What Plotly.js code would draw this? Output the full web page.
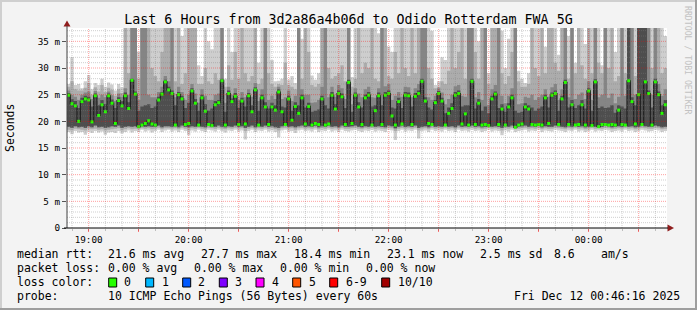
<!DOCTYPE html>
<html><head><meta charset="utf-8">
<script src="https://cdn.plot.ly/plotly-3.0.1.min.js"></script>
<style>
html,body{margin:0;padding:0;background:#f3f3f3;overflow:hidden}
#wrap{position:relative;width:697px;height:310px}
#chart{position:absolute;left:0;top:0;width:697px;height:310px}
.fr{position:absolute}
</style></head><body>
<div id="wrap"><div id="chart"></div>
<div class="fr" style="left:0;top:0;width:697px;height:2px;background:#cfcfcf"></div>
<div class="fr" style="left:0;top:0;width:2px;height:310px;background:#cfcfcf"></div>
<div class="fr" style="left:0;top:308px;width:697px;height:2px;background:#9e9e9e"></div>
<div class="fr" style="left:695px;top:0;width:2px;height:310px;background:#9e9e9e"></div>
</div>
<script>
// ---------- data (ms), one value per 2-minute step starting 18:47 ----------
const startTime = '2025-12-11 18:47:00';
const stepMinutes = 2;

const median = [24.9,23.3,22.9,20.0,23.7,24.2,24.0,19.9,24.8,21.1,
 23.1,21.8,24.8,23.4,19.6,23.9,22.9,24.8,22.4,27.7,
 25.1,19.0,19.3,19.6,20.1,19.5,19.3,24.0,25.1,27.4,
 25.9,25.2,19.3,25.0,24.2,19.4,19.6,25.7,23.4,19.3,
 24.4,21.9,19.4,19.2,23.1,23.5,27.6,19.3,25.2,23.7,
 24.7,19.4,23.8,19.5,24.8,21.8,25.9,19.3,24.4,22.7,
 19.4,22.7,22.1,25.5,21.8,19.4,24.2,20.2,22.8,21.5,
 24.4,19.5,22.8,19.3,19.6,19.4,24.2,19.3,19.5,24.9,
 22.3,25.2,24.6,19.4,27.3,19.6,24.9,22.7,19.4,24.4,
 24.9,19.3,22.0,24.8,19.4,24.9,25.2,21.0,19.3,23.7,
 19.5,24.9,24.8,19.4,24.7,25.2,27.5,23.8,19.6,19.4,
 23.5,25.2,23.8,19.3,21.5,22.4,24.9,25.2,19.5,21.4,
 19.3,27.5,19.4,23.4,19.3,19.4,19.2,24.2,25.1,19.4,
 22.3,19.3,22.7,24.4,18.9,19.3,19.5,22.7,22.3,19.4,
 19.3,19.4,19.3,24.4,19.6,24.9,25.2,19.4,24.2,27.3,
 19.4,23.1,19.3,19.4,23.1,19.3,25.7,19.2,27.4,19.0,
 19.4,19.4,19.3,19.4,19.3,22.1,19.4,19.3,27.6,23.7,
 19.5,25.0,19.4,27.4,25.2,19.3,27.4,25.0,21.5,23.1];

// outermost smoke (min .. max ping)
const smokeLo1 = [18.0,17.6,18.2,17.9,18.0,17.5,18.1,17.8,18.2,17.9,
 18.1,17.5,17.9,18.0,17.8,18.2,17.7,18.0,18.3,17.9,
 18.2,18.0,18.4,18.1,18.3,17.9,18.2,18.4,18.0,18.3,
 18.4,18.1,18.3,18.0,18.4,18.2,17.4,18.3,18.1,18.4,
 18.2,18.0,18.4,18.3,18.1,18.4,18.2,17.9,18.3,18.2,
 18.4,18.1,18.3,16.6,18.2,18.4,18.0,18.3,18.2,18.4,
 18.1,18.3,18.0,17.0,18.3,18.4,18.1,18.2,17.8,18.3,
 18.4,18.2,18.3,18.1,18.4,18.0,18.3,18.2,18.4,18.1,
 18.3,18.0,18.4,18.2,18.1,18.3,18.4,18.2,18.0,18.3,
 18.2,18.4,18.1,18.3,18.2,18.0,18.4,18.3,16.5,18.2,
 18.4,18.1,18.3,18.2,18.4,16.8,18.2,18.3,18.0,18.4,
 18.2,18.3,18.1,18.4,18.2,18.3,18.0,18.4,18.2,18.3,
 18.1,18.4,18.2,18.3,18.0,18.2,18.4,18.1,18.3,18.2,
 17.4,18.3,18.1,18.4,18.0,18.2,18.3,18.4,18.1,18.3,
 18.2,18.4,18.0,18.3,18.2,18.1,18.4,18.3,18.2,18.0,
 18.3,18.2,18.4,18.1,18.3,18.0,18.2,18.4,18.1,18.3,
 18.2,18.4,18.3,18.0,18.2,18.3,18.1,18.4,18.2,18.3,
 18.0,18.2,18.4,18.3,18.1,18.2,18.4,18.3,18.0,18.2];
const smokeHi1 = [27.0,32.0,26.8,27.0,26.2,27.5,28.7,26.0,27.2,26.8,
 28.0,26.5,27.3,26.9,25.8,27.0,26.4,40,40,40,
 40,33.0,40,40,40,40,40,40,38.0,40,
 40,40,40,40,36.0,40,40,40,40,30.5,
 28.5,40,35.0,33.5,40,40,40,28.0,40,33.0,
 40,40,40,40,40,40,40,31.0,40,40,
 40,31.5,27.5,27.6,28.0,40,27.8,28.5,27.2,40,
 35.5,40,40,28.6,27.8,29.0,40,40,40,40,
 40,40,40,40,40,28.3,40,40,40,40,
 40,40,40,36.5,40,40,34.0,33.0,40,40,
 40,40,40,40,40,40,40,40,40,37.0,
 26.8,27.5,32.0,31.5,40,40,40,40,40,40,
 40,40,40,35.0,40,40,29.0,40,40,40,
 37.0,30.0,35.5,40,40,29.5,28.0,27.2,29.0,40,
 40,40,40,34.0,40,40,40,32.5,40,40,
 36.0,40,31.0,40,40,34.5,40,40,40,40,
 30.5,40,40,40,33.0,40,40,40,40,40,
 40,40,40,40,40,40,40,40,40,36.0];
// second smoke layer
const smokeLo2 = [18.4,18.3,18.6,18.5,18.4,18.3,18.6,18.5,18.6,18.4,
 18.5,18.3,18.4,18.5,18.6,18.7,18.3,18.5,18.7,18.5,
 18.6,18.5,18.7,18.6,18.7,18.5,18.6,18.8,18.5,18.7,
 18.7,18.6,18.7,18.5,18.8,18.6,18.3,18.7,18.6,18.8,
 18.6,18.5,18.8,18.7,18.6,18.8,18.6,18.5,18.7,18.6,
 18.8,18.6,18.7,18.2,18.6,18.8,18.5,18.7,18.6,18.8,
 18.6,18.7,18.5,18.3,18.7,18.8,18.6,18.7,18.4,18.7,
 18.8,18.6,18.7,18.6,18.8,18.5,18.7,18.6,18.8,18.6,
 18.7,18.5,18.8,18.6,18.6,18.7,18.8,18.6,18.5,18.7,
 18.6,18.8,18.6,18.7,18.6,18.5,18.8,18.7,18.2,18.6,
 18.8,18.6,18.7,18.6,18.8,18.3,18.6,18.7,18.5,18.8,
 18.6,18.7,18.6,18.8,18.6,18.7,18.5,18.8,18.6,18.7,
 18.6,18.8,18.6,18.7,18.5,18.6,18.8,18.6,18.7,18.6,
 18.3,18.7,18.6,18.8,18.5,18.6,18.7,18.8,18.6,18.7,
 18.6,18.8,18.5,18.7,18.6,18.6,18.8,18.7,18.6,18.5,
 18.7,18.6,18.8,18.6,18.7,18.5,18.6,18.8,18.6,18.7,
 18.6,18.8,18.7,18.5,18.6,18.7,18.6,18.8,18.6,18.7,
 18.5,18.6,18.8,18.7,18.6,18.6,18.8,18.7,18.5,18.6];
const smokeHi2 = [26.5,27.5,26.0,25.8,25.8,26.3,27.2,25.0,26.4,25.6,
 26.8,25.5,26.3,25.9,24.8,26.0,25.3,40,29.0,40,
 40,28.0,40,40,40,30.0,28.5,27.5,33.0,40,
 40,40,27.5,40,27.0,29.0,40,40,40,27.0,
 27.0,30.0,27.5,27.0,29.0,27.8,40,26.5,30.5,27.8,
 33.0,28.0,40,29.0,27.5,28.5,40,27.0,28.0,40,
 29.0,27.0,26.5,27.0,26.8,31.0,26.8,26.5,26.0,40,
 28.0,40,33.0,26.8,26.5,27.0,40,40,30.0,28.0,
 28.5,29.0,30.5,27.5,40,26.5,28.0,40,29.0,31.0,
 30.0,40,28.0,27.5,40,40,28.5,28.0,33.0,29.0,
 40,30.0,28.5,40,29.0,40,40,40,30.0,28.0,
 26.2,26.5,27.5,27.0,29.5,40,30.0,33.0,40,28.0,
 40,40,33.0,28.0,40,40,27.0,40,40,40,
 29.0,27.0,28.5,33.0,40,27.5,26.5,26.5,27.0,40,
 30.0,28.5,40,29.0,40,40,31.0,29.5,40,40,
 28.0,40,29.0,40,30.5,28.0,40,29.0,40,31.0,
 29.0,40,30.0,40,27.5,28.5,40,29.0,40,40,
 28.5,40,40,40,40,30.0,40,40,29.0,30.0];
// inner smoke layers
const smokeLo3 = [19.0,18.8,19.1,18.9,19.0,18.8,19.1,18.9,19.2,18.9,
 19.0,18.8,18.9,19.1,19.0,19.2,18.8,19.0,19.1,19.0,
 19.1,18.9,19.1,19.0,19.1,19.0,19.0,19.2,18.9,19.1,
 19.1,19.0,19.1,18.9,19.2,19.0,18.9,19.1,19.0,19.1,
 19.0,18.9,19.2,19.0,19.0,19.2,19.0,18.9,19.1,19.0,
 19.2,19.0,19.1,18.8,19.0,19.2,18.9,19.1,19.0,19.2,
 19.0,19.1,18.9,18.8,19.1,19.2,19.0,19.1,18.9,19.1,
 19.2,19.0,19.1,19.0,19.2,18.9,19.1,19.0,19.2,19.0,
 19.1,18.9,19.2,19.0,19.0,19.1,19.2,19.0,18.9,19.1,
 19.0,19.2,19.0,19.1,19.0,18.9,19.2,19.1,18.7,19.0,
 19.2,19.0,19.1,19.0,19.2,18.8,19.0,19.1,18.9,19.2,
 19.0,19.1,19.0,19.2,19.0,19.1,18.9,19.2,19.0,19.1,
 19.0,19.2,19.0,19.1,18.9,19.0,19.1,19.0,19.1,19.0,
 18.8,19.1,19.0,19.2,18.8,19.0,19.1,19.2,19.0,19.1,
 19.0,19.2,18.9,19.1,19.0,19.0,19.2,19.1,19.0,18.9,
 19.1,19.0,19.2,19.0,19.1,18.9,19.0,19.1,19.0,18.9,
 19.0,19.2,19.1,18.9,19.0,19.1,19.0,19.2,19.0,19.1,
 18.9,19.0,19.2,19.1,19.0,19.0,19.2,19.1,18.9,19.0];
const smokeHi3 = [25.8,25.0,24.6,24.0,25.0,25.4,25.6,24.2,25.7,24.4,
 25.0,24.5,25.6,24.9,23.8,25.2,24.6,26.2,25.0,40,
 40,24.0,40,40,25.0,24.5,24.5,25.5,26.5,28.5,
 27.5,40,24.5,26.5,25.5,24.0,25.0,27.0,25.2,23.5,
 26.0,24.8,24.0,24.0,25.0,25.2,40,23.5,26.5,25.0,
 26.2,24.0,25.5,24.5,26.0,24.6,27.2,23.8,26.0,40,
 24.0,24.8,24.2,26.5,24.2,24.5,25.8,23.8,24.8,40,
 26.0,25.0,25.0,23.5,23.6,24.0,26.5,40,24.5,26.5,
 24.6,26.8,26.2,24.2,40,23.2,26.2,25.2,24.5,26.0,
 26.5,24.5,24.4,26.2,40,26.6,27.0,24.0,24.8,25.5,
 24.6,26.5,26.4,24.5,26.2,27.0,40,40,24.5,24.0,
 24.8,26.2,25.4,23.2,24.2,25.0,26.6,26.8,24.8,24.6,
 40,40,24.5,25.5,24.0,40,23.0,26.0,26.8,40,
 24.8,23.4,24.8,26.2,40,23.2,23.4,24.6,24.4,25.0,
 24.0,24.5,25.0,26.0,24.6,26.4,27.0,24.0,26.0,40,
 24.5,40,24.2,25.0,25.4,24.2,27.5,24.0,40,24.5,
 25.0,40,24.4,25.2,23.4,24.6,40,24.8,40,40,
 25.0,40,40,40,40,25.0,40,27.0,24.8,26.0];
const smokeHi4 = [25.3,24.2,23.8,22.5,24.4,24.8,24.6,22.8,25.2,23.0,
 24.0,23.2,25.2,24.1,22.5,24.5,23.8,25.4,23.6,28.0,
 25.6,22.0,22.8,23.0,23.2,22.5,22.8,24.6,25.5,27.8,
 26.5,25.8,23.0,25.5,24.8,22.5,23.5,26.2,24.2,22.0,
 25.0,23.2,22.0,22.4,23.8,24.0,28.0,21.8,25.8,24.3,
 25.3,22.5,24.4,22.8,25.3,23.0,26.4,22.0,25.0,23.6,
 22.4,23.5,23.0,26.0,22.8,22.6,24.8,22.0,23.6,23.0,
 25.0,22.6,23.5,21.8,22.0,22.2,24.8,23.0,22.4,25.5,
 23.2,25.8,25.2,22.5,27.8,21.8,25.4,23.6,22.6,25.0,
 25.5,22.8,23.0,25.4,23.0,25.5,25.8,22.6,22.4,24.4,
 22.5,25.5,25.4,22.8,25.3,25.8,28.0,24.5,22.6,22.2,
 24.0,25.7,24.4,21.5,22.6,23.4,25.5,25.8,22.8,23.0,
 23.0,28.0,22.4,24.2,22.0,22.8,21.5,24.8,25.6,22.5,
 23.2,21.8,23.4,25.0,22.0,21.6,21.8,23.4,23.0,22.6,
 22.0,22.4,22.8,25.0,22.6,25.4,25.8,22.0,24.8,27.8,
 22.6,24.0,22.5,23.0,24.0,22.4,26.2,22.0,27.9,22.5,
 22.8,22.5,22.6,23.0,21.6,23.0,22.8,22.4,40,24.5,
 23.0,40,40,40,25.8,22.6,28.0,25.6,23.0,24.0];

// axis labels
const xTickLabels = ['19:00','','20:00','','21:00','','22:00','','23:00','','00:00',''];
const firstTick = '2025-12-11 19:00:00';
const yTickVals = [0,5,10,15,20,25,30,35];
const yTickLabels = ['0','5 m','10 m','15 m','20 m','25 m','30 m','35 m'];

// legend texts
const titleText = 'Last 6 Hours from 3d2a86a4b06d to Odido Rotterdam FWA 5G';
const rttStats = ['median rtt:','21.6 ms avg','27.7 ms max','18.4 ms min','23.1 ms now','2.5 ms sd','8.6','am/s'];
const lossStats = ['packet loss:','0.00 % avg','0.00 % max','0.00 % min','0.00 % now'];
const lossLabels = ['0','1','2','3','4','5','6-9','10/10'];
const lossColors = ['#26ff00','#00b8ff','#0059ff','#7e00ff','#ff00ff','#ff5500','#ff0000','#a10000'];
const probeText = ['probe:','10 ICMP Echo Pings (56 Bytes) every 60s','Fri Dec 12 00:46:16 2025'];

// ---------- build ----------
const N = median.length;
[smokeLo1,smokeHi1,smokeLo2,smokeHi2,smokeLo3,smokeHi3,smokeHi4].forEach((a,i)=>{
  if (a.length !== N) throw new Error('array '+i+' length '+a.length+' != '+N);
});
function toMs(s){ return Date.parse(s.replace(' ','T')+'Z'); }
const t0 = toMs(startTime), stepMs = stepMinutes*60000;
const xs = [], mids = [];
for (let i=0;i<=N;i++) xs.push(t0 + i*stepMs);
for (let i=0;i<N;i++) mids.push(t0 + i*stepMs + stepMs/2);
const ext = a => a.concat([a[a.length-1]]);

const mono = 'DejaVu Sans Mono, Liberation Mono, monospace';
const layers = [
  [smokeLo1, smokeHi1, '#cecece'],
  [smokeLo2, smokeHi2, '#acacac'],
  [smokeLo3, smokeHi3, '#858585'],
  [smokeLo3, smokeHi4, '#4e4e4e']
];
const traces = [];
layers.forEach(([lo,hi,col])=>{
  traces.push({x:xs, y:ext(lo), mode:'lines', line:{width:0, shape:'hv'}, hoverinfo:'skip', showlegend:false});
  traces.push({x:xs, y:ext(hi), mode:'lines', line:{width:0, shape:'hv'}, fill:'tonexty', fillcolor:col, hoverinfo:'skip', showlegend:false});
});
traces.push({x:xs, y:ext(median), mode:'lines', line:{color:'#202020', width:1.2, shape:'hv'}, showlegend:false});
traces.push({x:mids, y:median, mode:'markers', marker:{symbol:'square', size:3, color:lossColors[0], line:{width:0}}, showlegend:false});

const L = 67, T = 28, W = 600, H = 200;
const px = x => (x - L) / W;
const py = y => (T + H - y) / H;

const xStart = t0, xEnd = t0 + 360*60000;
const tick0 = toMs(firstTick);
const xTickVals = xTickLabels.map((_,i)=> tick0 + i*30*60000);

// grid shapes drawn above the smoke, as rrdtool does
const shapes = [];
for (let t = tick0 - 10*60000; t < xEnd; t += 10*60000) {
  if (t <= xStart) continue;
  const major = ((t - tick0) % (30*60000)) === 0;
  shapes.push({type:'line', xref:'x', yref:'paper', x0:t, x1:t, y0:0, y1:1, layer:'above',
    line:{color: major ? 'rgba(255,0,0,0.38)' : 'rgba(128,128,128,0.38)', width:1, dash:'1px,1px'}});
}
for (let v = 1; v <= 37; v++) {
  const major = v % 5 === 0;
  shapes.push({type:'line', xref:'paper', yref:'y', x0:0, x1:1, y0:v, y1:v, layer:'above',
    line:{color: major ? 'rgba(255,0,0,0.38)' : 'rgba(128,128,128,0.38)', width:1, dash:'1px,1px'}});
}
// axis arrows
const arrowCol = '#8f1d1d';
shapes.push({type:'path', xref:'paper', yref:'paper', layer:'above', line:{width:0}, fillcolor:arrowCol,
  path:`M ${px(63.5)} ${py(26.5)} L ${px(70.5)} ${py(26.5)} L ${px(67)} ${py(20.5)} Z`});
shapes.push({type:'path', xref:'paper', yref:'paper', layer:'above', line:{width:0}, fillcolor:arrowCol,
  path:`M ${px(667.5)} ${py(224.5)} L ${px(667.5)} ${py(231.5)} L ${px(674)} ${py(228)} Z`});
shapes.push({type:'line', xref:'paper', yref:'paper', layer:'above', x0:px(67), x1:px(67), y0:py(228), y1:py(26), line:{color:'#404040', width:1}});
shapes.push({type:'line', xref:'paper', yref:'paper', layer:'above', x0:px(64), x1:px(668), y0:py(228), y1:py(228), line:{color:'#000', width:1}});

// legend boxes
const boxX = [108.7,145.7,182.7,219.3,256,292.7,329.7,381.7];
boxX.forEach((bx,i)=>{
  shapes.push({type:'rect', xref:'paper', yref:'paper', layer:'above',
    x0:px(bx), x1:px(bx+8), y0:py(278), y1:py(287), fillcolor:lossColors[i], line:{color:'#000', width:1}});
});

const annotations = [];
function txt(x, y, s, size, extra){
  annotations.push(Object.assign({xref:'paper', yref:'paper', x:px(x), y:py(y), text:s, showarrow:false,
    xanchor:'left', yanchor:'middle', font:{family:mono, size:size||11.5, color:'#000'}}, extra||{}));
}
const rttX = [16,107.3,200,293.3,386,479.3,552.7,600];
rttStats.forEach((s,i)=>txt(rttX[i]-1, 254.3, s));
const lossX = [16,107.3,193.3,279.3,365];
lossStats.forEach((s,i)=>txt(lossX[i]-1, 268.3, s));
txt(15, 282.3, 'loss color:');
const lossLabX = [123.3,160.7,197.3,234.3,271,307.7,345,396.7];
lossLabels.forEach((s,i)=>txt(lossLabX[i]-1, 282.3, s));
const probeX = [16,107.3,513.3];
probeText.forEach((s,i)=>txt(probeX[i]-1, 296, s));
txt(10, 128, 'Seconds', 11.5, {xanchor:'center', textangle:-90});
txt(688, 60, 'RRDTOOL / TOBI OETIKER', 8.2, {xanchor:'center', textangle:90, font:{family:mono, size:8.2, color:'#c2c2c2'}});

const layout = {
  width:697, height:310,
  margin:{l:L, r:697-L-W, t:T, b:310-T-H, pad:0},
  paper_bgcolor:'#f3f3f3', plot_bgcolor:'#ffffff',
  showlegend:false,
  title:{text:titleText, font:{family:mono, size:13.3, color:'#000'}, x:0.5, xref:'container', xanchor:'center', y:1-19/310, yref:'container', yanchor:'middle'},
  xaxis:{type:'date', range:[xStart, xEnd], showgrid:false, zeroline:false, showline:false,
    tickmode:'array', tickvals:xTickVals, ticktext:xTickLabels, ticks:'outside', ticklen:3, tickcolor:'rgba(255,0,0,0.5)', tickwidth:1,
    tickfont:{family:mono, size:9.3, color:'#000'},
    minor:{ticks:'outside', ticklen:2, tickcolor:'#bdbdbd', tickmode:'linear', tick0:tick0, dtick:600000, showgrid:false}},
  yaxis:{range:[0,37.5], showgrid:false, zeroline:false, showline:false,
    tickmode:'array', tickvals:yTickVals, ticktext:yTickLabels, ticks:'outside', ticklen:4, tickcolor:'#555', tickwidth:1,
    tickfont:{family:mono, size:9.3, color:'#000'}},
  shapes, annotations
};
Plotly.newPlot('chart', traces, layout, {staticPlot:true, displayModeBar:false});
</script>
</body></html>
